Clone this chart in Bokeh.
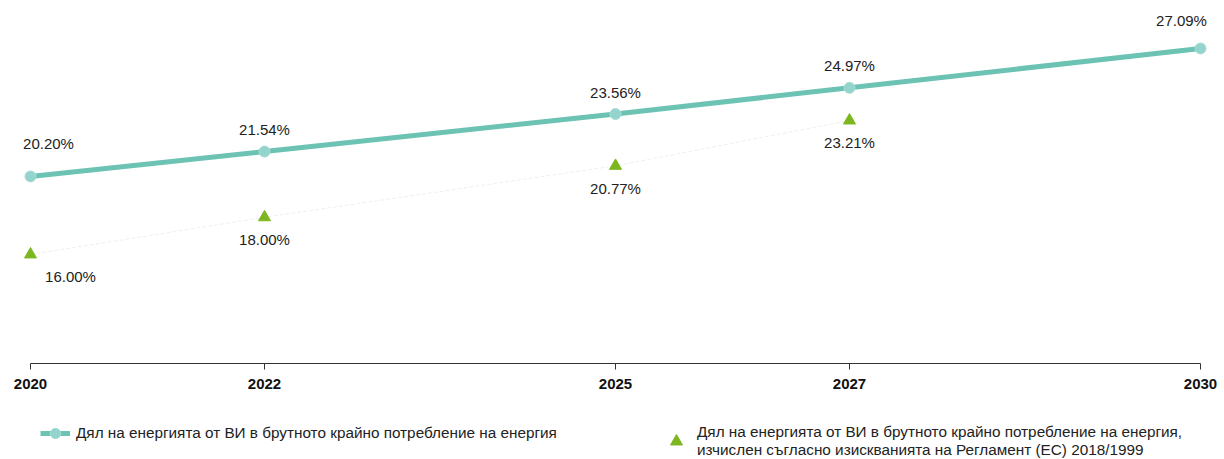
from bokeh.plotting import figure
from bokeh.layouts import column
from bokeh.models import (ColumnDataSource, FixedTicker, Legend, LegendItem,
                          Range1d, LabelSet)
from bokeh.core.properties import value
from bokeh.embed import file_html
from bokeh.resources import INLINE

years = [2020, 2022, 2025, 2027, 2030]
share_res = [20.20, 21.54, 23.56, 24.97, 27.09]
reg_years = [2020, 2022, 2025, 2027]
share_reg = [16.00, 18.00, 20.77, 23.21]

series1_name = "Дял на енергията от ВИ в брутното крайно потребление на енергия"
series2_name = ("Дял на енергията от ВИ в брутното крайно потребление на енергия,\n"
                "изчислен съгласно изискванията на Регламент (ЕС) 2018/1999")

# label offsets in pixels (style only; positive = up)
res_dx = [18, 0, 0, 0, -19]
res_dy = [33, 22, 22, 22, 28]
reg_dx = [40, 0, 0, 0]
reg_dy = [-22, -22, -23, -22]

FONT = "Liberation Sans"
LINE_C = "#6cc3b4"
MARK_C = "#93d4cc"
TRI_C = "#7cb71f"
TXT_C = "#222222"

src1 = ColumnDataSource(dict(x=years, y=share_res,
                             lbl=[f"{v:.2f}%" for v in share_res],
                             dx=res_dx, dy=res_dy))
src2 = ColumnDataSource(dict(x=reg_years, y=share_reg,
                             lbl=[f"{v:.2f}%" for v in share_reg],
                             dx=reg_dx, dy=reg_dy))

# frame spans the full width; the axis line is bounded to 2020..2030
px_per_year = 117.0
x0 = years[0] - 30 / px_per_year
x1 = years[-1] + 24 / px_per_year

p = figure(width=1224, height=403, output_backend="svg", toolbar_location=None,
           x_range=Range1d(x0, x1), y_range=Range1d(10.13, 29.67),
           y_axis_location=None,
           min_border_left=0, min_border_right=0, min_border_top=0,
           min_border_bottom=40)
p.outline_line_color = None
p.grid.visible = False

# faint connector between regulation points
p.line('x', 'y', source=src2, line_color="#efefef", line_width=1, line_dash="4 2")

l1 = p.line('x', 'y', source=src1, line_color=LINE_C, line_width=5)
c1 = p.scatter('x', 'y', source=src1, marker="circle", size=11,
               fill_color=MARK_C, line_color="#a8ddd6", line_width=1)
t2 = p.scatter('x', 'y', source=src2, marker="triangle", size=12,
               fill_color=TRI_C, line_color=TRI_C)

for src in (src1, src2):
    p.add_layout(LabelSet(x='x', y='y', text='lbl', source=src,
                          x_offset='dx', y_offset='dy',
                          text_align="center", text_baseline="middle",
                          text_font=value(FONT), text_font_size="15px",
                          text_color=TXT_C))

p.xaxis.ticker = FixedTicker(ticks=years)
p.xaxis.bounds = (years[0], years[-1])
p.xaxis.axis_line_color = "#333333"
p.xaxis.major_tick_line_color = "#333333"
p.xaxis.major_tick_out = 6
p.xaxis.major_tick_in = 0
p.xaxis.minor_tick_line_color = None
p.xaxis.major_label_text_font = FONT
p.xaxis.major_label_text_font_style = "bold"
p.xaxis.major_label_text_font_size = "15px"
p.xaxis.major_label_text_color = "#111111"
p.xaxis.major_label_standoff = 9

# legend figure (same series, drawn off-range so only the legend shows)
lg = figure(width=1224, height=56, output_backend="svg", toolbar_location=None,
            x_range=Range1d(0, 1), y_range=Range1d(0, 1),
            x_axis_location=None, y_axis_location=None,
            min_border_left=0, min_border_right=0, min_border_top=0,
            min_border_bottom=0)
lg.outline_line_color = None
lg.grid.visible = False
gl1 = lg.line('x', 'y', source=src1, line_color=LINE_C, line_width=5)
gc1 = lg.scatter('x', 'y', source=src1, marker="circle", size=11,
                 fill_color=MARK_C, line_color="#a8ddd6", line_width=1)
gt2 = lg.scatter('x', 'y', source=src2, marker="triangle", size=14,
                 fill_color=TRI_C, line_color=TRI_C)

common = dict(orientation="horizontal", label_text_font=FONT,
              label_text_font_size="15.3px", label_text_color=TXT_C,
              glyph_width=30, label_standoff=6, padding=0, margin=0,
              border_line_color=None, background_fill_alpha=0)
leg1 = Legend(items=[LegendItem(label=series1_name, renderers=[gl1, gc1])],
              location=(40, 13), glyph_height=26, **common)
leg2 = Legend(items=[LegendItem(label=series2_name, renderers=[gt2])],
              location=(661, 0), glyph_height=30, **common)
lg.add_layout(leg1, "center")
lg.add_layout(leg2, "center")

layout = column(p, lg, spacing=0)
open("out.html", "w").write(file_html(layout, INLINE))
